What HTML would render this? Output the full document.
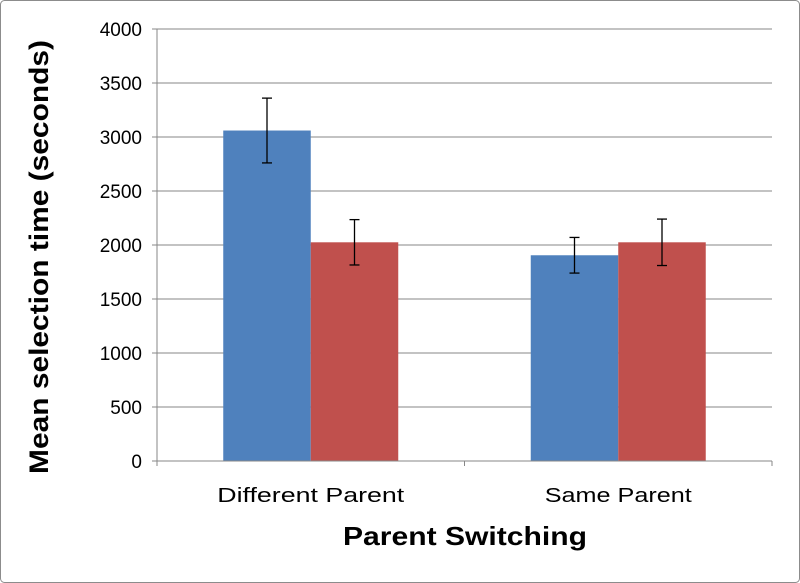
<!DOCTYPE html>
<html><head><meta charset="utf-8"><style>
body{margin:0;background:#fff;}
svg{display:block;font-family:"Liberation Sans",sans-serif;}
</style></head><body>
<svg id="chart" width="800" height="583">
<rect x="0.5" y="0.5" width="799" height="582" rx="4" fill="#fff" stroke="#8c8c8c"/>
<g id="grid"></g><g id="bars"></g><g id="axes"></g>
<text x="465" y="545" text-anchor="middle" font-size="26" font-weight="bold" textLength="244" lengthAdjust="spacingAndGlyphs">Parent Switching</text>
<text transform="translate(48,257) rotate(-90)" text-anchor="middle" font-size="27" font-weight="bold" textLength="434" lengthAdjust="spacingAndGlyphs">Mean selection time (seconds)</text>
</svg>
<script>
const categories = ["Different Parent", "Same Parent"];
const seriesA = [3060, 1905];
const seriesAErr = [300, 165];
const seriesB = [2025, 2025];
const seriesBErr = [210, 215];
const yTicks = [0, 500, 1000, 1500, 2000, 2500, 3000, 3500, 4000];
const catLens = [187, 147];
const NS = "http://www.w3.org/2000/svg";
const x0 = 157, x1 = 772, yBase = 461, yTop = 29, yMax = 4000;
const y = v => yBase - (v / yMax) * (yBase - yTop);
const catW = (x1 - x0) / categories.length;
const cx = i => x0 + catW * (i + 0.5);
const barW = 87.5;
function mk(tag, attrs, parent) {
  const el = document.createElementNS(NS, tag);
  for (const k in attrs) el.setAttribute(k, attrs[k]);
  document.getElementById(parent).appendChild(el);
  return el;
}
yTicks.forEach(t => {
  if (t > 0) {
    const g = mk("line", {x1: x0, x2: x1, y1: y(t), y2: y(t), stroke: "#878787", "stroke-width": 1}, "grid");
    
    
  }
  const tk = mk("line", {x1: x0 - 5, x2: x0, y1: y(t), y2: y(t), stroke: "#878787"}, "axes");
  
  
  const lb = mk("text", {x: x0 - 15, y: y(t) + 7, "text-anchor": "end", "font-size": 19}, "axes");
  lb.textContent = t;
  
  
});
function err(xc, v, e) {
  const g = mk("g", {stroke: "#000", "stroke-width": 1.3}, "bars");
  
  
  const top = y(v + e), bot = y(v - e);
  [[xc, xc, top, bot], [xc - 5, xc + 5, top, top], [xc - 5, xc + 5, bot, bot]].forEach(a => {
    const l = document.createElementNS(NS, "line");
    l.setAttribute("x1", a[0]); l.setAttribute("x2", a[1]); l.setAttribute("y1", a[2]); l.setAttribute("y2", a[3]);
    g.appendChild(l);
  });
}
categories.forEach((c, i) => {
  const c0 = cx(i);
  const a = mk("rect", {x: c0 - barW, y: y(seriesA[i]), width: barW, height: yBase - y(seriesA[i]), fill: "#4f81bd"}, "bars");
  
  
  const b = mk("rect", {x: c0, y: y(seriesB[i]), width: barW, height: yBase - y(seriesB[i]), fill: "#c0504d"}, "bars");
  
  
  err(c0 - barW / 2, seriesA[i], seriesAErr[i]);
  err(c0 + barW / 2, seriesB[i], seriesBErr[i]);
  const lb = mk("text", {x: c0, y: 502, "text-anchor": "middle", "font-size": 20, textLength: catLens[i], lengthAdjust: "spacingAndGlyphs"}, "axes");
  lb.textContent = c;
  
  
});
for (let i = 0; i <= categories.length; i++) {
  const t = mk("line", {x1: x0 + catW * i, x2: x0 + catW * i, y1: yBase, y2: yBase + 5, stroke: "#878787"}, "axes");
  
  
}
const ya = mk("line", {x1: x0, x2: x0, y1: yTop, y2: yBase, stroke: "#878787"}, "axes");


const xa = mk("line", {x1: x0, x2: x1, y1: yBase, y2: yBase, stroke: "#878787"}, "axes");


</script>
</body></html>
